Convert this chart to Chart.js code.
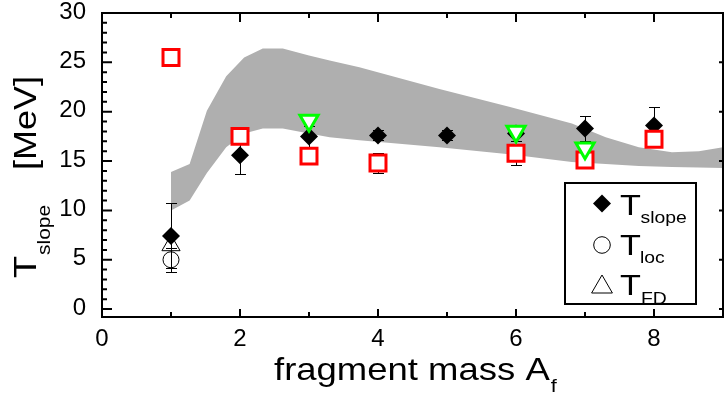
<!DOCTYPE html>
<html><head><meta charset="utf-8">
<script src="https://cdn.jsdelivr.net/npm/chart.js@4.4.1/dist/chart.umd.min.js"></script>
<style>html,body{margin:0;padding:0;background:#fff;}canvas{display:block;}</style>
</head><body>
<canvas id="c" width="724" height="393"></canvas>
<script>
const FONT = '"Liberation Sans", Arial, Helvetica, sans-serif';

// tick labels
const xTickLabels = ['0', '2', '4', '6', '8'];
const yTickLabels = ['0', '5', '10', '15', '20', '25', '30'];

// T_slope (filled diamonds) with error bars
const slopeX = [1, 2, 3, 4, 5, 6, 7, 8];
const slopeY = [7.4, 15.6, 17.5, 17.6, 17.6, 17.8, 18.3, 18.6];
const slopeErrUp = [3.4, 1.9, 1.1, 0.5, 0.5, 0.8, 1.3, 1.9];
const slopeErrDown = [3.2, 1.9, 1.1, 0.5, 0.5, 0.8, 1.3, 1.9];

// red open squares
const redX = [1, 2, 3, 4, 6, 7, 8];
const redY = [25.5, 17.5, 15.5, 14.8, 15.8, 15.1, 17.2];
const redErr = [0, 0, 0, 1.05, 1.2, 0, 0];

// green open inverted triangles
const greenX = [3, 6, 7];
const greenY = [19.1, 18.0, 16.3];

// T_loc (open circle) and T_FD (open triangle)
const locX = [1];
const locY = [5.0];
const locErr = [1.2];
const fdX = [1];
const fdY = [6.45];

// grey band (upper / lower edges)
const bandX =     [1.0, 1.27, 1.52, 1.8, 2.06, 2.33, 2.62, 3.0, 3.3, 3.73, 4.89, 5.9, 6.81, 7.3, 7.78, 8.26, 8.65, 9.0];
const bandUpper = [13.9, 14.7, 20.1, 23.6, 25.5, 26.4, 26.4, 25.7, 25.2, 24.5, 22.3, 20.5, 18.8, 17.4, 16.4, 15.9, 16.0, 16.4];
const bandLower = [10.0, 11.0, 13.8, 16.4, 17.8, 18.3, 18.3, 17.8, 17.4, 17.1, 16.4, 15.7, 14.9, 14.7, 14.5, 14.4, 14.35, 14.3];

const pts = (xs, ys) => xs.map((x, i) => ({x: x, y: ys[i]}));

const errorBars = {
  id: 'errorBars',
  beforeDatasetDraw(chart, args) {
    if (chart.data.datasets[args.index].label !== 'slope') return;
    const xs = chart.scales.x, ys = chart.scales.y, ctx = chart.ctx;
    ctx.save();
    ctx.strokeStyle = '#000';
    ctx.lineWidth = 1;
    const bar = (x, lo, hi) => {
      const px = Math.round(xs.getPixelForValue(x)) + 0.5;
      const p1 = Math.round(ys.getPixelForValue(lo)) + 0.5;
      const p2 = Math.round(ys.getPixelForValue(hi)) + 0.5;
      ctx.beginPath();
      ctx.moveTo(px, p1); ctx.lineTo(px, p2);
      ctx.moveTo(px - 5.5, p1); ctx.lineTo(px + 5.5, p1);
      ctx.moveTo(px - 5.5, p2); ctx.lineTo(px + 5.5, p2);
      ctx.stroke();
    };
    slopeX.forEach((x, i) => bar(x, slopeY[i] - slopeErrDown[i], slopeY[i] + slopeErrUp[i]));
    redX.forEach((x, i) => { if (redErr[i] > 0) bar(x, redY[i] - redErr[i], redY[i] + redErr[i]); });
    locX.forEach((x, i) => bar(x, locY[i] - locErr[i], locY[i] + locErr[i]));
    ctx.restore();
  }
};

function stretchedText(ctx, text, x, y, size, sx) {
  ctx.save();
  ctx.font = size + 'px ' + FONT;
  ctx.translate(x, y);
  ctx.scale(sx, 1);
  ctx.fillText(text, 0, 0);
  const w = ctx.measureText(text).width * sx;
  ctx.restore();
  return w;
}

const decor = {
  id: 'decor',
  afterDraw(chart) {
    const {ctx, chartArea: a, scales: {x, y}} = chart;
    ctx.save();
    // frame
    ctx.strokeStyle = '#000';
    ctx.lineWidth = 2;
    ctx.strokeRect(a.left, a.top, a.right - a.left, a.bottom - a.top);
    ctx.beginPath();
    for (let v = 0; v <= 9; v++) {
      const px = x.getPixelForValue(v);
      const even = v % 2 === 0;
      ctx.moveTo(px, a.bottom); ctx.lineTo(px, a.bottom - (even ? 8 : 5));
      ctx.moveTo(px, a.top); ctx.lineTo(px, a.top + (even ? 9 : 5));
    }
    for (let v = 0; v <= 30; v++) {
      const py = y.getPixelForValue(v);
      const major = v % 5 === 0;
      ctx.moveTo(a.left, py); ctx.lineTo(a.left + (major ? 10 : 5), py);
      if (major) { ctx.moveTo(a.right, py); ctx.lineTo(a.right - 4, py); }
    }
    ctx.stroke();

    ctx.fillStyle = '#000';
    // tick labels
    ctx.font = '24px ' + FONT;
    ctx.textBaseline = 'middle';
    ctx.textAlign = 'center';
    xTickLabels.forEach(t => ctx.fillText(t, x.getPixelForValue(Number(t)), a.bottom + 22));
    ctx.textAlign = 'right';
    yTickLabels.forEach(t => ctx.fillText(t, a.left - 16, y.getPixelForValue(Number(t)) - 1));

    ctx.textBaseline = 'alphabetic';
    ctx.textAlign = 'left';
    // x title
    const sx = 1.14;
    let w = stretchedText(ctx, 'fragment mass A', 274, 380, 32, sx);
    stretchedText(ctx, 'f', 274 + w + 1, 392, 19, sx);

    // y title (rotated)
    ctx.save();
    ctx.translate(36, 278);
    ctx.rotate(-Math.PI / 2);
    ctx.scale(1, 0.85);
    ctx.font = '36px ' + FONT;
    ctx.fillText('T', 0, 0);
    let tw = ctx.measureText('T').width;
    ctx.font = '21px ' + FONT;
    ctx.fillText('slope', tw + 1, 17);
    ctx.font = '36px ' + FONT;
    ctx.fillText('[MeV]', 108, 0);
    ctx.restore();

    // legend
    const L = {l: 565, t: 183, r: 696, b: 304};
    ctx.fillStyle = '#fff';
    ctx.fillRect(L.l, L.t, L.r - L.l, L.b - L.t);
    const H = Chart.helpers;
    ctx.fillStyle = '#000';
    ctx.strokeStyle = '#000';
    H.drawPoint(ctx, {pointStyle: 'rectRot', radius: 9, rotation: 0, borderWidth: 0}, 602, 203.5);
    ctx.fillStyle = 'rgba(0,0,0,0)';
    ctx.lineWidth = 1;
    H.drawPoint(ctx, {pointStyle: 'circle', radius: 8.3, rotation: 0, borderWidth: 1}, 602, 245);
    H.drawPoint(ctx, {pointStyle: 'triangle', radius: 12, rotation: 0, borderWidth: 1}, 602, 287);
    ctx.fillStyle = '#000';
    stretchedText(ctx, 'T', 620, 215, 30, sx);
    stretchedText(ctx, 'slope', 640.5, 222.5, 17, sx);
    stretchedText(ctx, 'T', 620, 255, 30, sx);
    stretchedText(ctx, 'loc', 640, 263, 17, sx);
    stretchedText(ctx, 'T', 620, 295, 30, sx);
    stretchedText(ctx, 'FD', 641, 304, 17, sx);
    ctx.strokeStyle = '#000';
    ctx.lineWidth = 2;
    ctx.strokeRect(L.l, L.t, L.r - L.l, L.b - L.t);
    ctx.restore();
  }
};

new Chart(document.getElementById('c'), {
  type: 'scatter',
  data: {
    datasets: [
      {label: 'bandUpper', type: 'line', data: pts(bandX, bandUpper), fill: '+1', backgroundColor: '#afafaf',
       borderWidth: 0, borderColor: 'rgba(0,0,0,0)', pointRadius: 0, tension: 0, order: 100},
      {label: 'bandLower', type: 'line', data: pts(bandX, bandLower), fill: false,
       borderWidth: 0, borderColor: 'rgba(0,0,0,0)', pointRadius: 0, tension: 0, order: 101},
      {label: 'slope', data: pts(slopeX, slopeY), pointStyle: 'rectRot', pointRadius: 9,
       backgroundColor: '#000', borderWidth: 0, order: 5},
      {label: 'red', data: pts(redX, redY), pointStyle: 'rect', pointRadius: 11.3,
       backgroundColor: '#fff', borderColor: '#ff0000', borderWidth: 3, order: 4},
      {label: 'green', data: pts(greenX, greenY), pointStyle: 'triangle', rotation: 180, pointRadius: 10.5,
       backgroundColor: '#fff', borderColor: '#00ff00', borderWidth: 3, order: 3},
      {label: 'loc', data: pts(locX, locY), pointStyle: 'circle', pointRadius: 8,
       backgroundColor: 'rgba(0,0,0,0)', borderColor: '#000', borderWidth: 1, order: 2},
      {label: 'fd', data: pts(fdX, fdY), pointStyle: 'triangle', pointRadius: 10.5,
       backgroundColor: 'rgba(0,0,0,0)', borderColor: '#000', borderWidth: 1, order: 1}
    ]
  },
  options: {
    responsive: false,
    animation: false,
    events: [],
    layout: {autoPadding: false, padding: {left: 0, right: 1, top: 13, bottom: 0}},
    plugins: {legend: {display: false}, tooltip: {enabled: false}},
    scales: {
      x: {
        type: 'linear', min: 0, max: 9,
        grid: {display: false, drawTicks: false}, border: {display: false},
        afterBuildTicks: s => { s.ticks = xTickLabels.map(v => ({value: Number(v)})); },
        afterFit: s => { s.height = 76; },
        ticks: {display: false}
      },
      y: {
        type: 'linear', min: -0.8, max: 30,
        grid: {display: false, drawTicks: false}, border: {display: false},
        afterBuildTicks: s => { s.ticks = yTickLabels.map(v => ({value: Number(v)})); },
        afterFit: s => { s.width = 102; },
        ticks: {display: false}
      }
    }
  },
  plugins: [errorBars, decor]
});
</script>
</body></html>
